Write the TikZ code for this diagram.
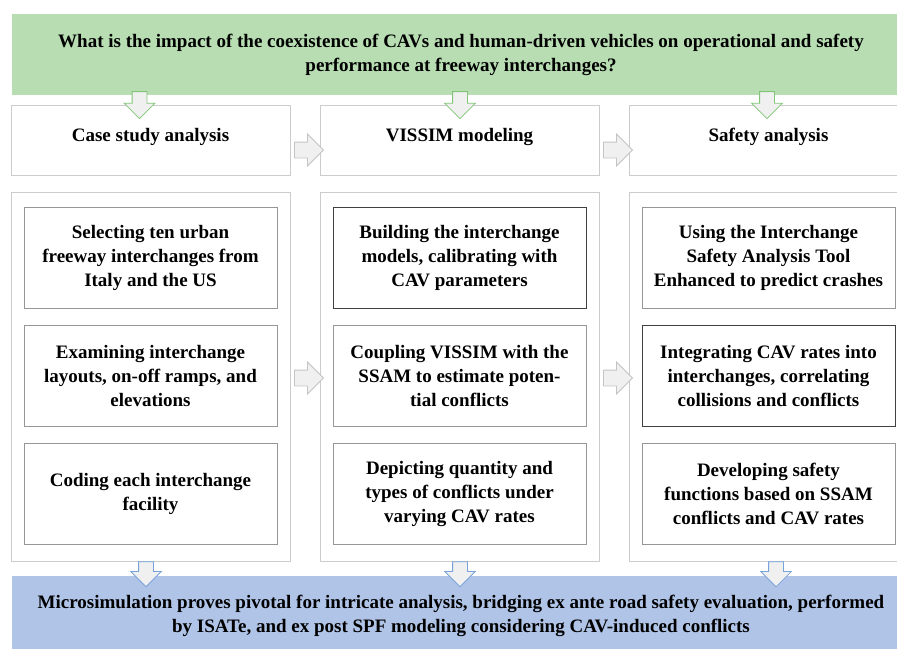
\documentclass[tikz,border=0pt]{standalone}
\usepackage{fontspec}
\setmainfont{Liberation Serif}
\usepackage{tikz}
\usetikzlibrary{shapes.arrows,positioning,calc}

\definecolor{questiongreen}{RGB}{184,221,179}
\definecolor{resultblue}{RGB}{176,196,232}
\definecolor{arrowgreen}{RGB}{128,198,118}
\definecolor{arrowblue}{RGB}{120,162,218}
\definecolor{arrowgray}{RGB}{196,196,196}
\definecolor{arrowfill}{RGB}{240,240,240}
\definecolor{boxgray}{RGB}{204,204,204}
\definecolor{taskgray}{RGB}{150,150,150}
\definecolor{taskdark}{RGB}{64,64,64}

\begin{document}
\begin{tikzpicture}[x=1pt,y=-1pt,node distance=309pt,font=\bfseries\fontsize{19}{24}\selectfont]
		\tikzstyle{banner}=[rectangle, minimum width=898pt, align=center, inner sep=0pt]
		\tikzstyle{header}=[rectangle, draw=boxgray, line width=0.8pt, minimum width=279pt, inner ysep=24pt, text height=12pt, text depth=10pt]
		\tikzstyle{column}=[rectangle, draw=boxgray, line width=0.8pt, minimum width=279pt, minimum height=369pt]
		\tikzstyle{task}=[rectangle, draw=taskgray, line width=0.8pt, minimum width=253pt, minimum height=101pt, align=center, inner sep=2pt]
		\tikzstyle{task dark}=[task, draw=taskdark]
		\tikzstyle{flow}=[single arrow, fill=arrowfill, line width=0.8pt, inner xsep=0pt, inner ysep=7pt, single arrow head extend=8pt, minimum width=30pt]
		\tikzstyle{flow down}=[flow, rotate=-90, minimum height=27pt, anchor=tail]
		\tikzstyle{flow right}=[flow, draw=arrowgray, minimum height=29pt, inner ysep=7.5pt, minimum width=31pt]

		\useasboundingbox (0,0) rectangle (897,648);

		% question and the three stages
		\node [banner, fill=questiongreen, minimum height=81pt] (question) at (461,54.5) {What is the impact of the coexistence of CAVs and human-driven vehicles on operational and safety\\performance at freeway interchanges?};
		\node [header] (case) at (150.5,140) {Case study analysis};
		\node [header] (modeling) [right of=case] {VISSIM modeling};
		\node [header] (safety) [right of=modeling] {Safety analysis};

		\node [column] (col1) at (150.5,376.5) {};
		\node [column] (col2) [right of=col1] {};
		\node [column] (col3) [right of=col2] {};

		% tasks of each stage
		\node [task] (select) at (150.5,257.5) {Selecting ten urban\\freeway interchanges from\\Italy and the US};
		\node [task] (examine) [node distance=118pt, below of=select] {Examining interchange\\layouts, on-off ramps, and\\elevations};
		\node [task] (coding) [node distance=118pt, below of=examine] {Coding each interchange\\facility};

		\node [task dark] (build) [right of=select] {Building the interchange\\models, calibrating with\\CAV parameters};
		\node [task] (couple) [right of=examine] {Coupling VISSIM with the\\SSAM to estimate poten-\\tial conflicts};
		\node [task] (depict) [right of=coding] {Depicting quantity and\\types of conflicts under\\varying CAV rates};

		\node [task] (isate) [right of=build] {Using the Interchange\\Safety Analysis Tool\\Enhanced to predict crashes};
		\node [task dark] (integrate) [right of=couple] {Integrating CAV rates into\\interchanges, correlating\\collisions and conflicts};
		\node [task] (develop) [right of=depict] {Developing safety\\functions based on SSAM\\conflicts and CAV rates};

		\node [banner, fill=resultblue, minimum height=80pt] (result) at (461,616) {Microsimulation proves pivotal for intricate analysis, bridging ex ante road safety evaluation, performed\\by ISATe, and ex post SPF modeling considering CAV-induced conflicts};

		% block arrows
		\node [flow down, draw=arrowgreen] (q1) at ($(case.north |- question.south)+(-11,-4)$) {};
		\node [flow down, draw=arrowgreen] (q2) at ($(modeling.north |- question.south)+(0.5,-4)$) {};
		\node [flow down, draw=arrowgreen] (q3) at ($(safety.north |- question.south)+(-1.5,-4)$) {};

		\node [flow right] (h1) at ($(case.east)!0.5!(modeling.west)+(0,10)$) {};
		\node [flow right] (h2) at ($(modeling.east)!0.5!(safety.west)+(0,10)$) {};
		\node [flow right] (c1) at ($(col1.east)!0.5!(col2.west)+(0,1.5)$) {};
		\node [flow right] (c2) at ($(col2.east)!0.5!(col3.west)+(0,1.5)$) {};

		\node [flow down, draw=arrowblue, minimum height=25pt] (r1) at ($(col1.south)+(-4.5,0)$) {};
		\node [flow down, draw=arrowblue, minimum height=25pt] (r2) at ($(col2.south)+(0.5,0)$) {};
		\node [flow down, draw=arrowblue, minimum height=25pt] (r3) at ($(col3.south)+(7.5,0)$) {};
	\end{tikzpicture}
\end{document}
